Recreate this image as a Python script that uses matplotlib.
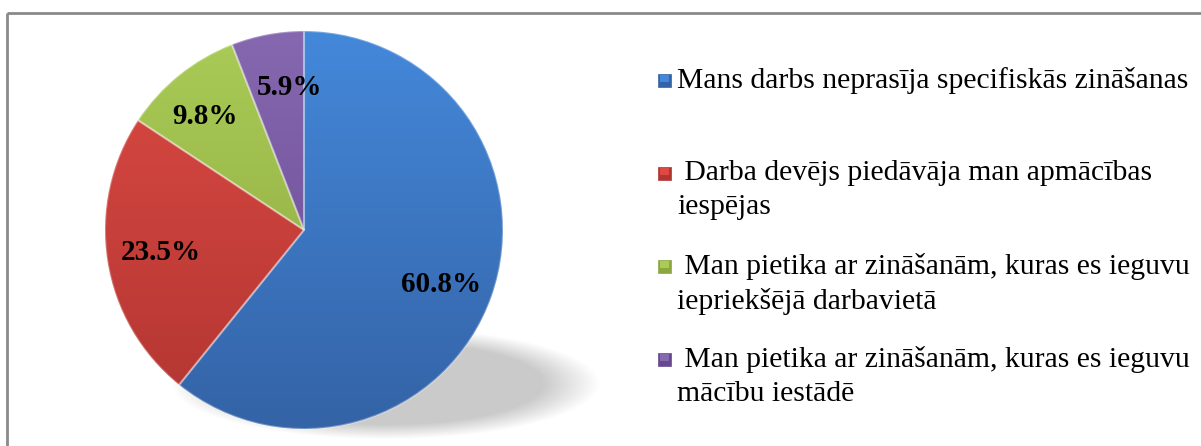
import numpy as np
import matplotlib
matplotlib.use('Agg')
import matplotlib.pyplot as plt
from matplotlib.patches import Rectangle
from matplotlib.colors import LinearSegmentedColormap

# data
labels = [
    'Mans darbs neprasīja specifiskās zināšanas',
    ' Darba devējs piedāvāja man apmācības\niespējas',
    ' Man pietika ar zināšanām, kuras es ieguvu\niepriekšējā darbavietā',
    ' Man pietika ar zināšanām, kuras es ieguvu\nmācību iestādē',
]
values = [60.8, 23.5, 9.8, 5.9]
top_colors = ['#4488DA', '#DC4A43', '#AACB57', '#8668B0']
bottom_colors = ['#3463A6', '#B23532', '#8BA73E', '#674890']

W, H = 1201, 446
fig = plt.figure(figsize=(W / 100, H / 100), dpi=100)
ax = fig.add_axes([0, 0, 1, 1])

cx, cy, r = 304, 216, 199

# soft shadow under the pie (blurred ellipse as an RGBA image)
sx, sy = np.meshgrid(np.arange(170, 620), np.arange(0, 130))
d = np.sqrt(((sx - 385) / 192.0) ** 2 + ((sy - 62) / 50.0) ** 2)
alpha = np.clip((1.12 - d) / 0.3, 0, 1) * 0.21
shadow = np.zeros(sx.shape + (4,))
shadow[..., 3] = alpha
ax.imshow(shadow, extent=(170, 620, 0, 130), origin='lower', aspect='auto', zorder=1)

wedges, texts, autotexts = ax.pie(
    values, colors=top_colors, startangle=90, counterclock=False,
    center=(cx, cy), radius=r, autopct='%1.1f%%', pctdistance=0.73,
    wedgeprops=dict(edgecolor='none'), frame=True,
    textprops=dict(family='Liberation Serif', fontsize=21, fontweight='bold', color='black'))

# vertical gradient + light bevel rim on each wedge
grad = np.linspace(0, 1, 256).reshape(-1, 1)
for w, c1, c2 in zip(wedges, top_colors, bottom_colors):
    cmap = LinearSegmentedColormap.from_list('g', [c1, c2])
    im = ax.imshow(grad, cmap=cmap, extent=(cx - r, cx + r, cy - r, cy + r),
                   origin='upper', aspect='auto', zorder=2)
    im.set_clip_path(w)
    w.set_facecolor('none')
    w.set_edgecolor((1, 1, 1, 0.3))
    w.set_linewidth(1.5)
    w.set_zorder(3)

for t in autotexts:
    t.set_zorder(5)

# nudge labels like the original
x0, y0 = autotexts[0].get_position()
autotexts[0].set_position((x0, y0 - 6))
autotexts[2].set_x(autotexts[2].get_position()[0] - 8)
autotexts[3].set_x(autotexts[3].get_position()[0] + 12)

ax.set_xlim(0, W)
ax.set_ylim(0, H)
ax.set_aspect('equal')
ax.axis('off')

# chart area border (only top and left are inside the picture)
ax.plot([7, W], [H - 13, H - 13], color='#8a8a8a', lw=2, zorder=6, solid_capstyle='butt')
ax.plot([7, 7], [H - 13, 0], color='#8a8a8a', lw=2, zorder=6, solid_capstyle='butt')

# legend
for i, (lab, c1, c2) in enumerate(zip(labels, top_colors, bottom_colors)):
    y = H - 80 - i * 93
    ax.add_patch(Rectangle((658, y - 7), 13, 13, facecolor=c2, edgecolor=c2, lw=0.5, zorder=4))
    ax.add_patch(Rectangle((660, y - 2), 9, 7, facecolor=c1, edgecolor='none', zorder=4))
    ax.text(677, y + 13, lab, family='Liberation Serif', fontsize=21.3,
            va='top', ha='left', linespacing=1.38, zorder=5)

fig.savefig('out.png', dpi=100)
